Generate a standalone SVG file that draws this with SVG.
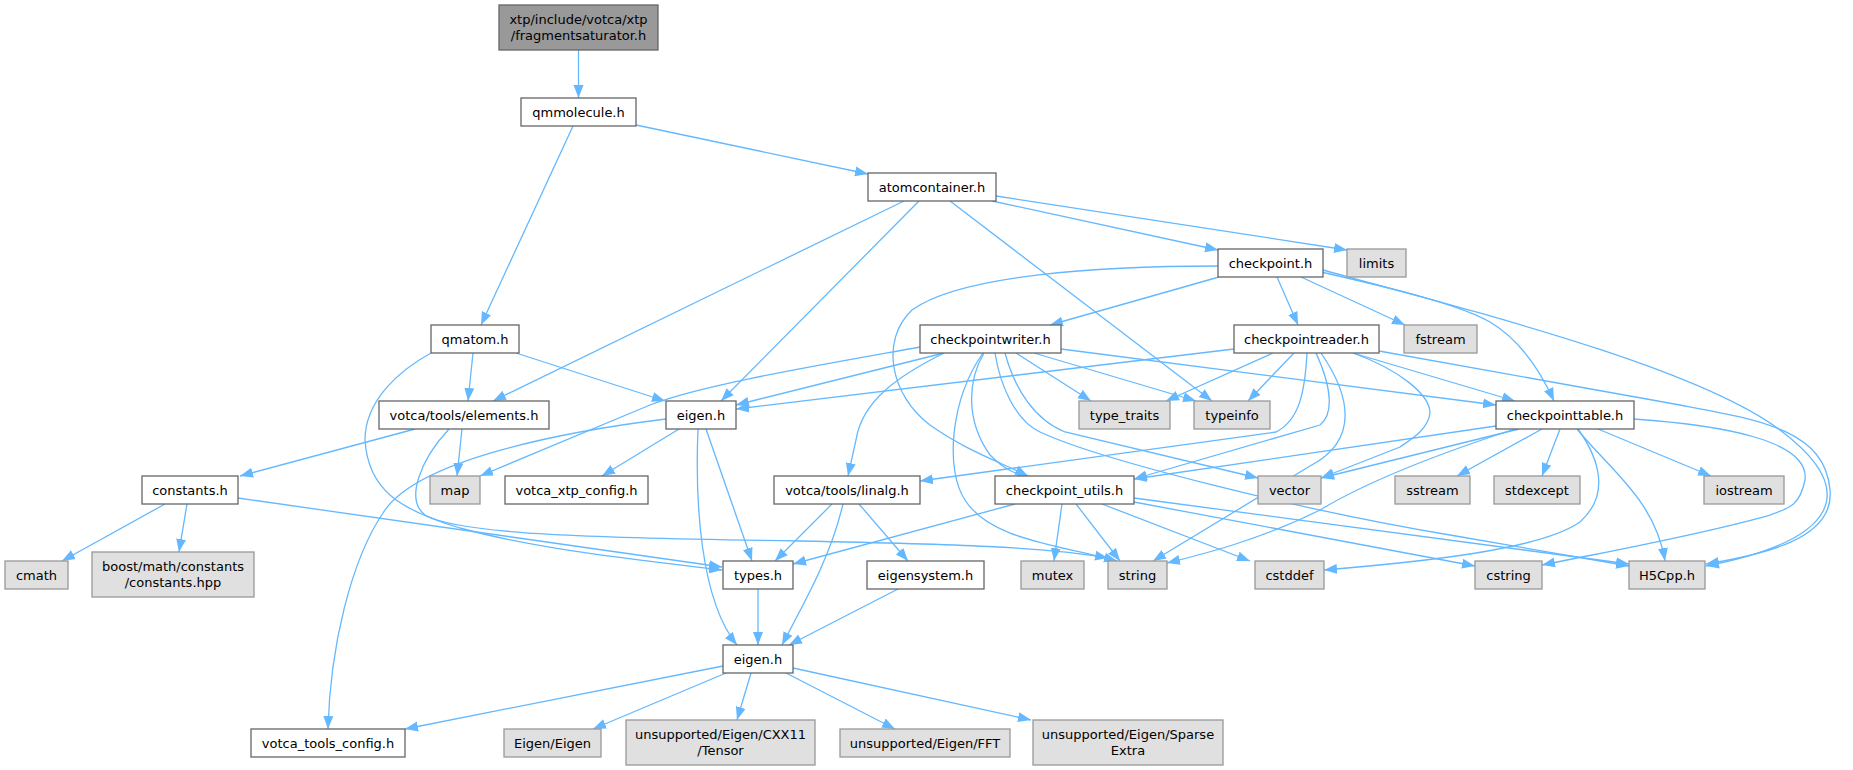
<svg xmlns="http://www.w3.org/2000/svg" width="1853" height="770" viewBox="0 0 1853 770">
<defs>
<marker id="a" markerUnits="userSpaceOnUse" markerWidth="14" markerHeight="11" refX="13" refY="5" orient="auto" viewBox="0 0 14 10">
<path d="M0,0 L13,5 L0,10 z" fill="#63b8ff"/>
</marker>
</defs>
<style>
.e path{fill:none;stroke:#63b8ff;stroke-width:1.3;marker-end:url(#a)}
.n rect{fill:#fff;stroke:#666;stroke-width:1.3}
.x rect{fill:#e0e0e0;stroke:#999;stroke-width:1.3}
.r rect{fill:#999;stroke:#666;stroke-width:1.3}
text{font-family:"DejaVu Sans","Liberation Sans",sans-serif;font-size:13px;fill:#000;text-anchor:middle}
</style>
<rect width="1853" height="770" fill="#fff"/>
<g class="e" id="edges">
<path d="M578.5,50 L578.5,98"/>
<path d="M636,125 L868,174"/>
<path d="M573,126 L481,325"/>
<path d="M904,201 L493,401"/>
<path d="M919,201 L721,401"/>
<path d="M950,201 L1212,401"/>
<path d="M992,201 L1218,250"/>
<path d="M996,196 L1347,250"/>
<path d="M1218,266 C1100,266 960,275 912,310 C880,340 890,395 930,425 C965,450 1000,462 1028,476"/>
<path d="M1219,277 L1050,325"/>
<path d="M1277,277 L1298,325"/>
<path d="M1301,277 L1405,325"/>
<path d="M1321,272 C1400,290 1460,305 1490,322 C1520,340 1540,370 1554,401"/>
<path d="M1323,270 C1500,318 1700,370 1780,430 C1860,490 1840,540 1706,566"/>
<path d="M473,353 L468,401"/>
<path d="M516,353 L665,401"/>
<path d="M431,353 C400,370 365,400 365,440 C368,490 400,510 460,528 C540,550 640,560 722,570"/>
<path d="M415,429 L240,476"/>
<path d="M462,429 L457,476"/>
<path d="M449,429 C420,460 405,500 425,515 C460,535 600,538 800,541 C950,544 1050,547 1108,558"/>
<path d="M679,429 L602,476"/>
<path d="M706,429 L752,561"/>
<path d="M698,429 C695,500 700,600 737,645"/>
<path d="M666,419 C560,432 420,460 385,510 C350,560 330,650 328,729"/>
<path d="M165,504 L62,561"/>
<path d="M187,504 L179,552"/>
<path d="M238,498 L722,567"/>
<path d="M920,347 C820,365 700,385 650,405 L480,476"/>
<path d="M944,353 L736,405"/>
<path d="M944,353 C900,375 862,400 856,440 L848,476"/>
<path d="M984,353 C968,380 965,420 990,455 C1005,470 1015,474 1030,477"/>
<path d="M983,353 C950,400 945,470 965,500 C990,540 1060,545 1117,561"/>
<path d="M1016,353 L1091,401"/>
<path d="M1034,353 L1196,401"/>
<path d="M1005,353 C1015,390 1035,420 1065,432 L1258,478"/>
<path d="M1061,349 L1496,405"/>
<path d="M995,353 C1000,385 1015,420 1040,432 C1100,460 1300,510 1450,535 L1629,566"/>
<path d="M1234,349 L736,409"/>
<path d="M1273,353 L1166,401"/>
<path d="M1294,353 L1248,401"/>
<path d="M1307,353 C1305,390 1300,420 1276,432 L920,481"/>
<path d="M1316,353 C1333,390 1333,415 1320,425 L1134,479"/>
<path d="M1321,353 C1350,395 1360,440 1310,466 L1153,561"/>
<path d="M1353,353 C1400,370 1430,395 1430,413 C1428,430 1410,440 1400,447 L1321,478"/>
<path d="M1353,353 L1515,401"/>
<path d="M1379,351 C1500,372 1600,390 1680,405 C1760,420 1825,430 1830,490 C1835,540 1760,555 1706,564"/>
<path d="M1496,426 L1134,479"/>
<path d="M1519,429 L1321,478"/>
<path d="M1542,429 L1457,476"/>
<path d="M1560,429 L1542,476"/>
<path d="M1598,429 L1711,476"/>
<path d="M1515,429 C1450,450 1370,480 1320,510 C1260,540 1200,555 1167,563"/>
<path d="M1578,429 C1600,460 1610,495 1580,522 C1540,550 1420,562 1324,570"/>
<path d="M1634,419 C1720,425 1810,440 1805,480 C1800,505 1790,508 1770,515 C1700,535 1600,553 1542,565"/>
<path d="M1577,429 C1610,470 1655,500 1665,561"/>
<path d="M832,504 L775,561"/>
<path d="M843,504 C830,560 800,610 782,645"/>
<path d="M859,504 L908,561"/>
<path d="M1015,504 L793,564"/>
<path d="M1062,504 L1054,561"/>
<path d="M1076,504 L1120,561"/>
<path d="M1102,504 L1250,561"/>
<path d="M1134,502 L1475,566"/>
<path d="M1134,498 L1629,564"/>
<path d="M758,589 L758,645"/>
<path d="M898,589 L789,645"/>
<path d="M723,666 L405,729"/>
<path d="M726,673 L593,729"/>
<path d="M751,673 L737,720"/>
<path d="M786,673 L895,729"/>
<path d="M793,668 L1031,720"/>
</g>
<g id="n_root" class="r"><rect x="499" y="5" width="159" height="45"/><text x="578.5" y="24">xtp/include/votca/xtp</text><text x="578.5" y="40">/fragmentsaturator.h</text></g>
<g id="n_qmmolecule" class="n"><rect x="521" y="98" width="115" height="28"/><text x="578.5" y="116.5">qmmolecule.h</text></g>
<g id="n_atomcontainer" class="n"><rect x="868" y="173" width="128" height="28"/><text x="932" y="191.5">atomcontainer.h</text></g>
<g id="n_checkpoint" class="n"><rect x="1218" y="249" width="105" height="28"/><text x="1270.5" y="267.5">checkpoint.h</text></g>
<g id="n_limits" class="x"><rect x="1347" y="249" width="59" height="28"/><text x="1376.5" y="267.5">limits</text></g>
<g id="n_qmatom" class="n"><rect x="431" y="325" width="88" height="28"/><text x="475" y="343.5">qmatom.h</text></g>
<g id="n_writer" class="n"><rect x="920" y="325" width="141" height="28"/><text x="990.5" y="343.5">checkpointwriter.h</text></g>
<g id="n_reader" class="n"><rect x="1234" y="325" width="145" height="28"/><text x="1306.5" y="343.5">checkpointreader.h</text></g>
<g id="n_fstream" class="x"><rect x="1404" y="325" width="73" height="28"/><text x="1440.5" y="343.5">fstream</text></g>
<g id="n_elements" class="n"><rect x="379" y="401" width="170" height="28"/><text x="464" y="419.5">votca/tools/elements.h</text></g>
<g id="n_eigen_xtp" class="n"><rect x="666" y="401" width="70" height="28"/><text x="701" y="419.5">eigen.h</text></g>
<g id="n_type_traits" class="x"><rect x="1079" y="401" width="91" height="28"/><text x="1124.5" y="419.5">type_traits</text></g>
<g id="n_typeinfo" class="x"><rect x="1194" y="401" width="76" height="28"/><text x="1232" y="419.5">typeinfo</text></g>
<g id="n_table" class="n"><rect x="1496" y="401" width="138" height="28"/><text x="1565" y="419.5">checkpointtable.h</text></g>
<g id="n_constants" class="n"><rect x="142" y="476" width="96" height="28"/><text x="190" y="494.5">constants.h</text></g>
<g id="n_map" class="x"><rect x="430" y="476" width="50" height="28"/><text x="455" y="494.5">map</text></g>
<g id="n_xtp_config" class="n"><rect x="505" y="476" width="143" height="28"/><text x="576.5" y="494.5">votca_xtp_config.h</text></g>
<g id="n_linalg" class="n"><rect x="774" y="476" width="146" height="28"/><text x="847" y="494.5">votca/tools/linalg.h</text></g>
<g id="n_utils" class="n"><rect x="995" y="476" width="139" height="28"/><text x="1064.5" y="494.5">checkpoint_utils.h</text></g>
<g id="n_vector" class="x"><rect x="1258" y="476" width="63" height="28"/><text x="1289.5" y="494.5">vector</text></g>
<g id="n_sstream" class="x"><rect x="1395" y="476" width="75" height="28"/><text x="1432.5" y="494.5">sstream</text></g>
<g id="n_stdexcept" class="x"><rect x="1494" y="476" width="86" height="28"/><text x="1537" y="494.5">stdexcept</text></g>
<g id="n_iostream" class="x"><rect x="1704" y="476" width="80" height="28"/><text x="1744" y="494.5">iostream</text></g>
<g id="n_cmath" class="x"><rect x="5" y="561" width="63" height="28"/><text x="36.5" y="579.5">cmath</text></g>
<g id="n_boost" class="x"><rect x="92" y="552" width="162" height="45"/><text x="173" y="571">boost/math/constants</text><text x="173" y="587">/constants.hpp</text></g>
<g id="n_types" class="n"><rect x="723" y="561" width="70" height="28"/><text x="758" y="579.5">types.h</text></g>
<g id="n_eigensystem" class="n"><rect x="867" y="561" width="117" height="28"/><text x="925.5" y="579.5">eigensystem.h</text></g>
<g id="n_mutex" class="x"><rect x="1021" y="561" width="63" height="28"/><text x="1052.5" y="579.5">mutex</text></g>
<g id="n_string" class="x"><rect x="1108" y="561" width="59" height="28"/><text x="1137.5" y="579.5">string</text></g>
<g id="n_cstddef" class="x"><rect x="1255" y="561" width="69" height="28"/><text x="1289.5" y="579.5">cstddef</text></g>
<g id="n_cstring" class="x"><rect x="1475" y="561" width="67" height="28"/><text x="1508.5" y="579.5">cstring</text></g>
<g id="n_h5cpp" class="x"><rect x="1629" y="561" width="76" height="28"/><text x="1667" y="579.5">H5Cpp.h</text></g>
<g id="n_eigen_tools" class="n"><rect x="723" y="645" width="70" height="28"/><text x="758" y="663.5">eigen.h</text></g>
<g id="n_tools_config" class="n"><rect x="251" y="729" width="154" height="28"/><text x="328" y="747.5">votca_tools_config.h</text></g>
<g id="n_eigen_eigen" class="x"><rect x="504" y="729" width="97" height="28"/><text x="552.5" y="747.5">Eigen/Eigen</text></g>
<g id="n_tensor" class="x"><rect x="626" y="720" width="189" height="45"/><text x="720.5" y="739">unsupported/Eigen/CXX11</text><text x="720.5" y="755">/Tensor</text></g>
<g id="n_fft" class="x"><rect x="840" y="729" width="170" height="28"/><text x="925" y="747.5">unsupported/Eigen/FFT</text></g>
<g id="n_sparse" class="x"><rect x="1033" y="720" width="190" height="45"/><text x="1128" y="739">unsupported/Eigen/Sparse</text><text x="1128" y="755">Extra</text></g>
</svg>
